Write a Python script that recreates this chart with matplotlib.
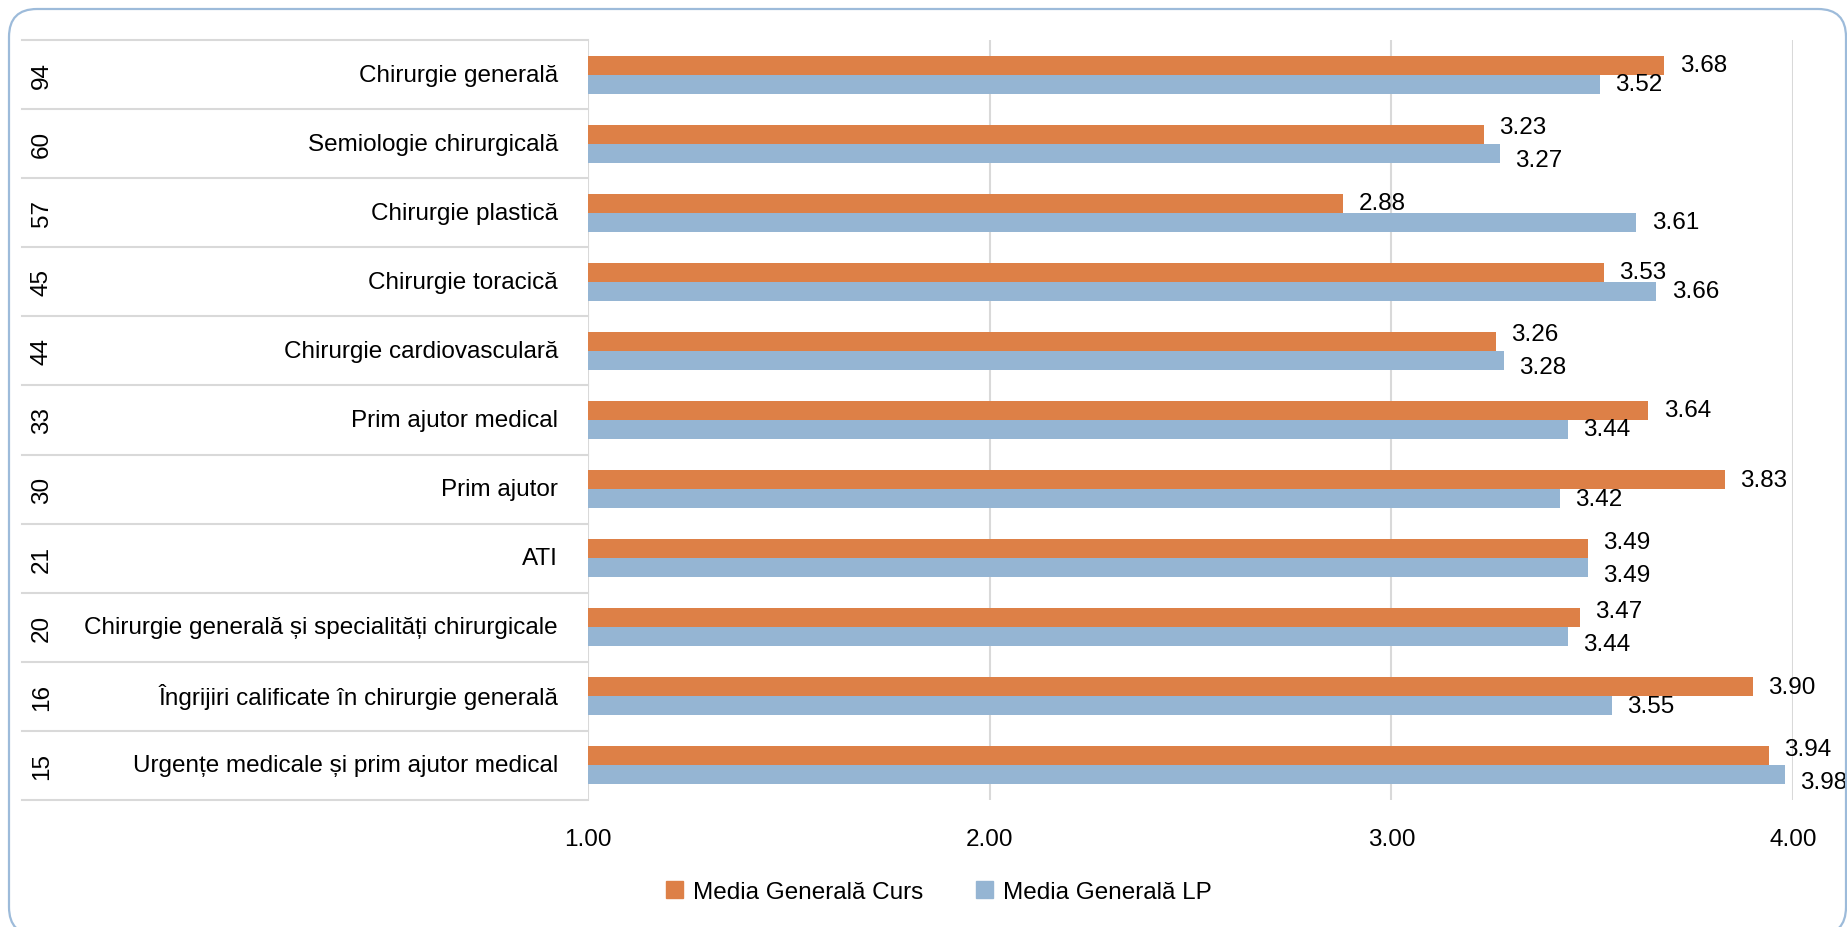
import matplotlib
matplotlib.use("Agg")
import matplotlib.pyplot as plt
import matplotlib.transforms as mtransforms
from matplotlib.patches import FancyBboxPatch, Patch
import numpy as np

counts = [94, 60, 57, 45, 44, 33, 30, 21, 20, 16, 15]
subjects = ["Chirurgie generală", "Semiologie chirurgicală", "Chirurgie plastică",
            "Chirurgie toracică", "Chirurgie cardiovasculară", "Prim ajutor medical",
            "Prim ajutor", "ATI", "Chirurgie generală și specialități chirurgicale",
            "Îngrijiri calificate în chirurgie generală",
            "Urgențe medicale și prim ajutor medical"]
media_curs = [3.68, 3.23, 2.88, 3.53, 3.26, 3.64, 3.83, 3.49, 3.47, 3.90, 3.94]
media_lp = [3.52, 3.27, 3.61, 3.66, 3.28, 3.44, 3.42, 3.49, 3.44, 3.55, 3.98]
x_ticks = [1.0, 2.0, 3.0, 4.0]
series_names = ["Media Generală Curs", "Media Generală LP"]

ORANGE = "#DD8047"
BLUE = "#95B5D3"
GRID = "#D9D9D9"
FS = 17.5

plt.rcParams['font.family'] = ['Liberation Sans Narrow', 'Liberation Sans', 'DejaVu Sans']

W, H = 1847, 928
fig = plt.figure(figsize=(W / 100, H / 100), dpi=100)

# plot area in pixels (from the top-left corner of the picture)
left, right, top, bottom = 588, 1793, 41, 801
ax = fig.add_axes([left / W, 1 - bottom / H, (right - left) / W, (bottom - top) / H])

n = len(counts)
y = np.arange(n)
h = 0.275
ax.barh(y - h / 2, np.array(media_curs) - x_ticks[0], left=x_ticks[0], height=h,
        color=ORANGE, zorder=3)
ax.barh(y + h / 2, np.array(media_lp) - x_ticks[0], left=x_ticks[0], height=h,
        color=BLUE, zorder=3)

ax.set_xlim(x_ticks[0], x_ticks[-1])
ax.set_ylim(n - 0.5, -0.5)
ax.set_xticks(x_ticks)
ax.set_xticklabels([f"{t:.2f}" for t in x_ticks], fontsize=FS)
ax.set_yticks([])
ax.tick_params(axis='x', length=0, pad=20)
for s in ax.spines.values():
    s.set_visible(False)
for t in x_ticks:
    ax.axvline(t, color=GRID, lw=1.5, zorder=1)

# data labels, pushed apart when they would collide
for i in range(n):
    a, b = media_curs[i], media_lp[i]
    push = 5 if abs(a - b) < 0.13 else 0
    ax.annotate(f"{a:.2f}", (a, i - h / 2), xytext=(11, push), textcoords='offset points',
                ha='left', va='center', fontsize=FS, zorder=4)
    ax.annotate(f"{b:.2f}", (b, i + h / 2), xytext=(11, -push), textcoords='offset points',
                ha='left', va='center', fontsize=FS, zorder=4)

# two-level category table on the left
tr = mtransforms.blended_transform_factory(fig.transFigure, ax.transData)
for i in range(n):
    fig.text(42 / W, 0, str(counts[i]), transform=tr, rotation=90,
             ha='center', va='center', fontsize=FS).set_y(i)
    fig.text(558 / W, 0, subjects[i], transform=tr,
             ha='right', va='center', fontsize=FS).set_y(i)
for yb in np.arange(n + 1) - 0.5:
    ax.plot([22 / W, left / W], [yb, yb], transform=tr, color=GRID, lw=1.5,
            clip_on=False, zorder=1)

handles = [Patch(color=ORANGE), Patch(color=BLUE)]
fig.legend(handles, series_names, loc='center', bbox_to_anchor=(939 / W, 1 - 893 / H),
           ncol=2, frameon=False, fontsize=FS, handlelength=0.7, handleheight=0.7,
           handletextpad=0.4, columnspacing=2.2)

border = FancyBboxPatch((9, -8), 1837, 926, boxstyle="round,pad=0,rounding_size=28",
                        transform=mtransforms.IdentityTransform(), facecolor='none',
                        edgecolor="#9DBBDA", lw=1.6)
fig.add_artist(border)

fig.savefig("out.png", dpi=100)
